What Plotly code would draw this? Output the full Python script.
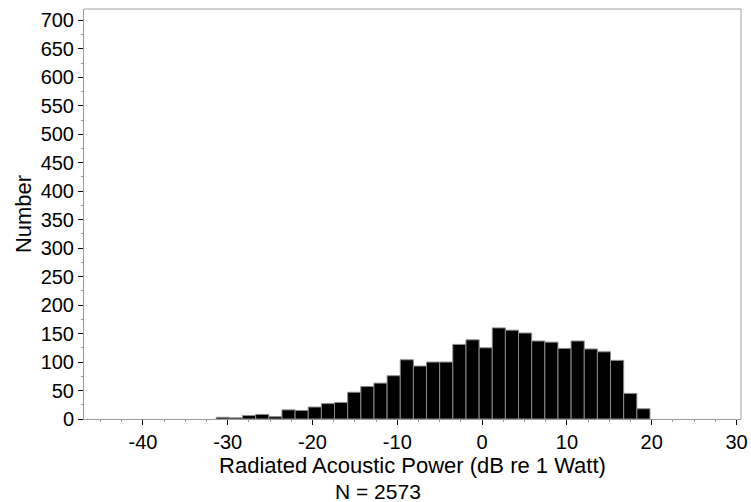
#!/usr/bin/env python
# coding: utf-8

"""Histogram of radiated acoustic power, redrawn with plotly."""

import plotly.graph_objects as go

# bin centres (dB re 1 Watt) and counts
bin_centers = [
    -30.58, -29.03, -27.48, -25.93, -24.38, -22.83, -21.28, -19.73, -18.18,
    -16.63, -15.08, -13.53, -11.98, -10.43, -8.88, -7.33, -5.78, -4.23,
    -2.68, -1.13, 0.42, 1.97, 3.52, 5.07, 6.62, 8.17, 9.72, 11.27, 12.82,
    14.37, 15.92, 17.47, 19.02,
]
counts = [
    3, 2, 6, 8, 4, 16, 15, 21, 27, 29, 47, 57, 63, 76, 104, 93, 100,
    100, 131, 139, 125, 160, 156, 151, 137, 135, 124, 137, 123, 118, 103, 45, 18,
]
bin_width = 1.55

x_ticks = [-40, -30, -20, -10, 0, 10, 20, 30]
x_ticktext = ["-40", "-30", "-20", "-10", "0", "10", "20", "30"]
y_ticks = list(range(0, 701, 50))

FONT = "Liberation Sans"

fig = go.Figure(
    go.Bar(
        x=bin_centers,
        y=counts,
        width=bin_width,
        marker=dict(color="black", line=dict(color="#8a8a8a", width=1)),
    )
)

fig.update_layout(
    width=751,
    height=502,
    margin=dict(l=84, r=10, t=9, b=83),
    paper_bgcolor="white",
    plot_bgcolor="white",
    showlegend=False,
    font=dict(family=FONT, size=22, color="black"),
    shapes=[
        # grey frame on the top and right of the plot area
        dict(type="line", xref="paper", yref="paper", x0=0, x1=1, y0=1, y1=1,
             line=dict(color="#a0a0a0", width=1)),
        dict(type="line", xref="paper", yref="paper", x0=1, x1=1, y0=0, y1=1,
             line=dict(color="#a0a0a0", width=1)),
    ],
    annotations=[
        dict(text="N = 2573", xref="paper", yref="paper", x=0.448, y=0,
             yshift=-72, yanchor="middle", showarrow=False,
             font=dict(family=FONT, size=21, color="black")),
    ],
)

fig.update_xaxes(
    range=[-46.95, 30.53],
    tickvals=x_ticks,
    ticktext=x_ticktext,
    tickfont=dict(family=FONT, size=20, color="black"),
    ticks="outside",
    ticklen=5,
    tickcolor="black",
    showline=True,
    linecolor="#999999",
    linewidth=1,
    showgrid=False,
    zeroline=False,
    automargin=False,
    minor=dict(dtick=2.5, ticks="outside", ticklen=2, tickcolor="#999999", showgrid=False),
    title=dict(text="Radiated Acoustic Power (dB re 1 Watt)", standoff=1,
               font=dict(family=FONT, size=22)),
)
fig.update_yaxes(
    range=[0, 720],
    tickvals=y_ticks,
    tickfont=dict(family=FONT, size=20, color="black"),
    ticks="outside",
    ticklen=5,
    tickcolor="black",
    showline=True,
    linecolor="#999999",
    linewidth=1,
    showgrid=False,
    zeroline=False,
    automargin=False,
    minor=dict(dtick=25, ticks="outside", ticklen=2, tickcolor="#999999", showgrid=False),
    title=dict(text="Number", standoff=2, font=dict(family=FONT, size=22)),
)

# the page's default body margin would shift the chart by 8 px
fig.write_html(
    "out.html",
    config={"displayModeBar": False},
    post_script="document.body.style.margin = '0';",
)
